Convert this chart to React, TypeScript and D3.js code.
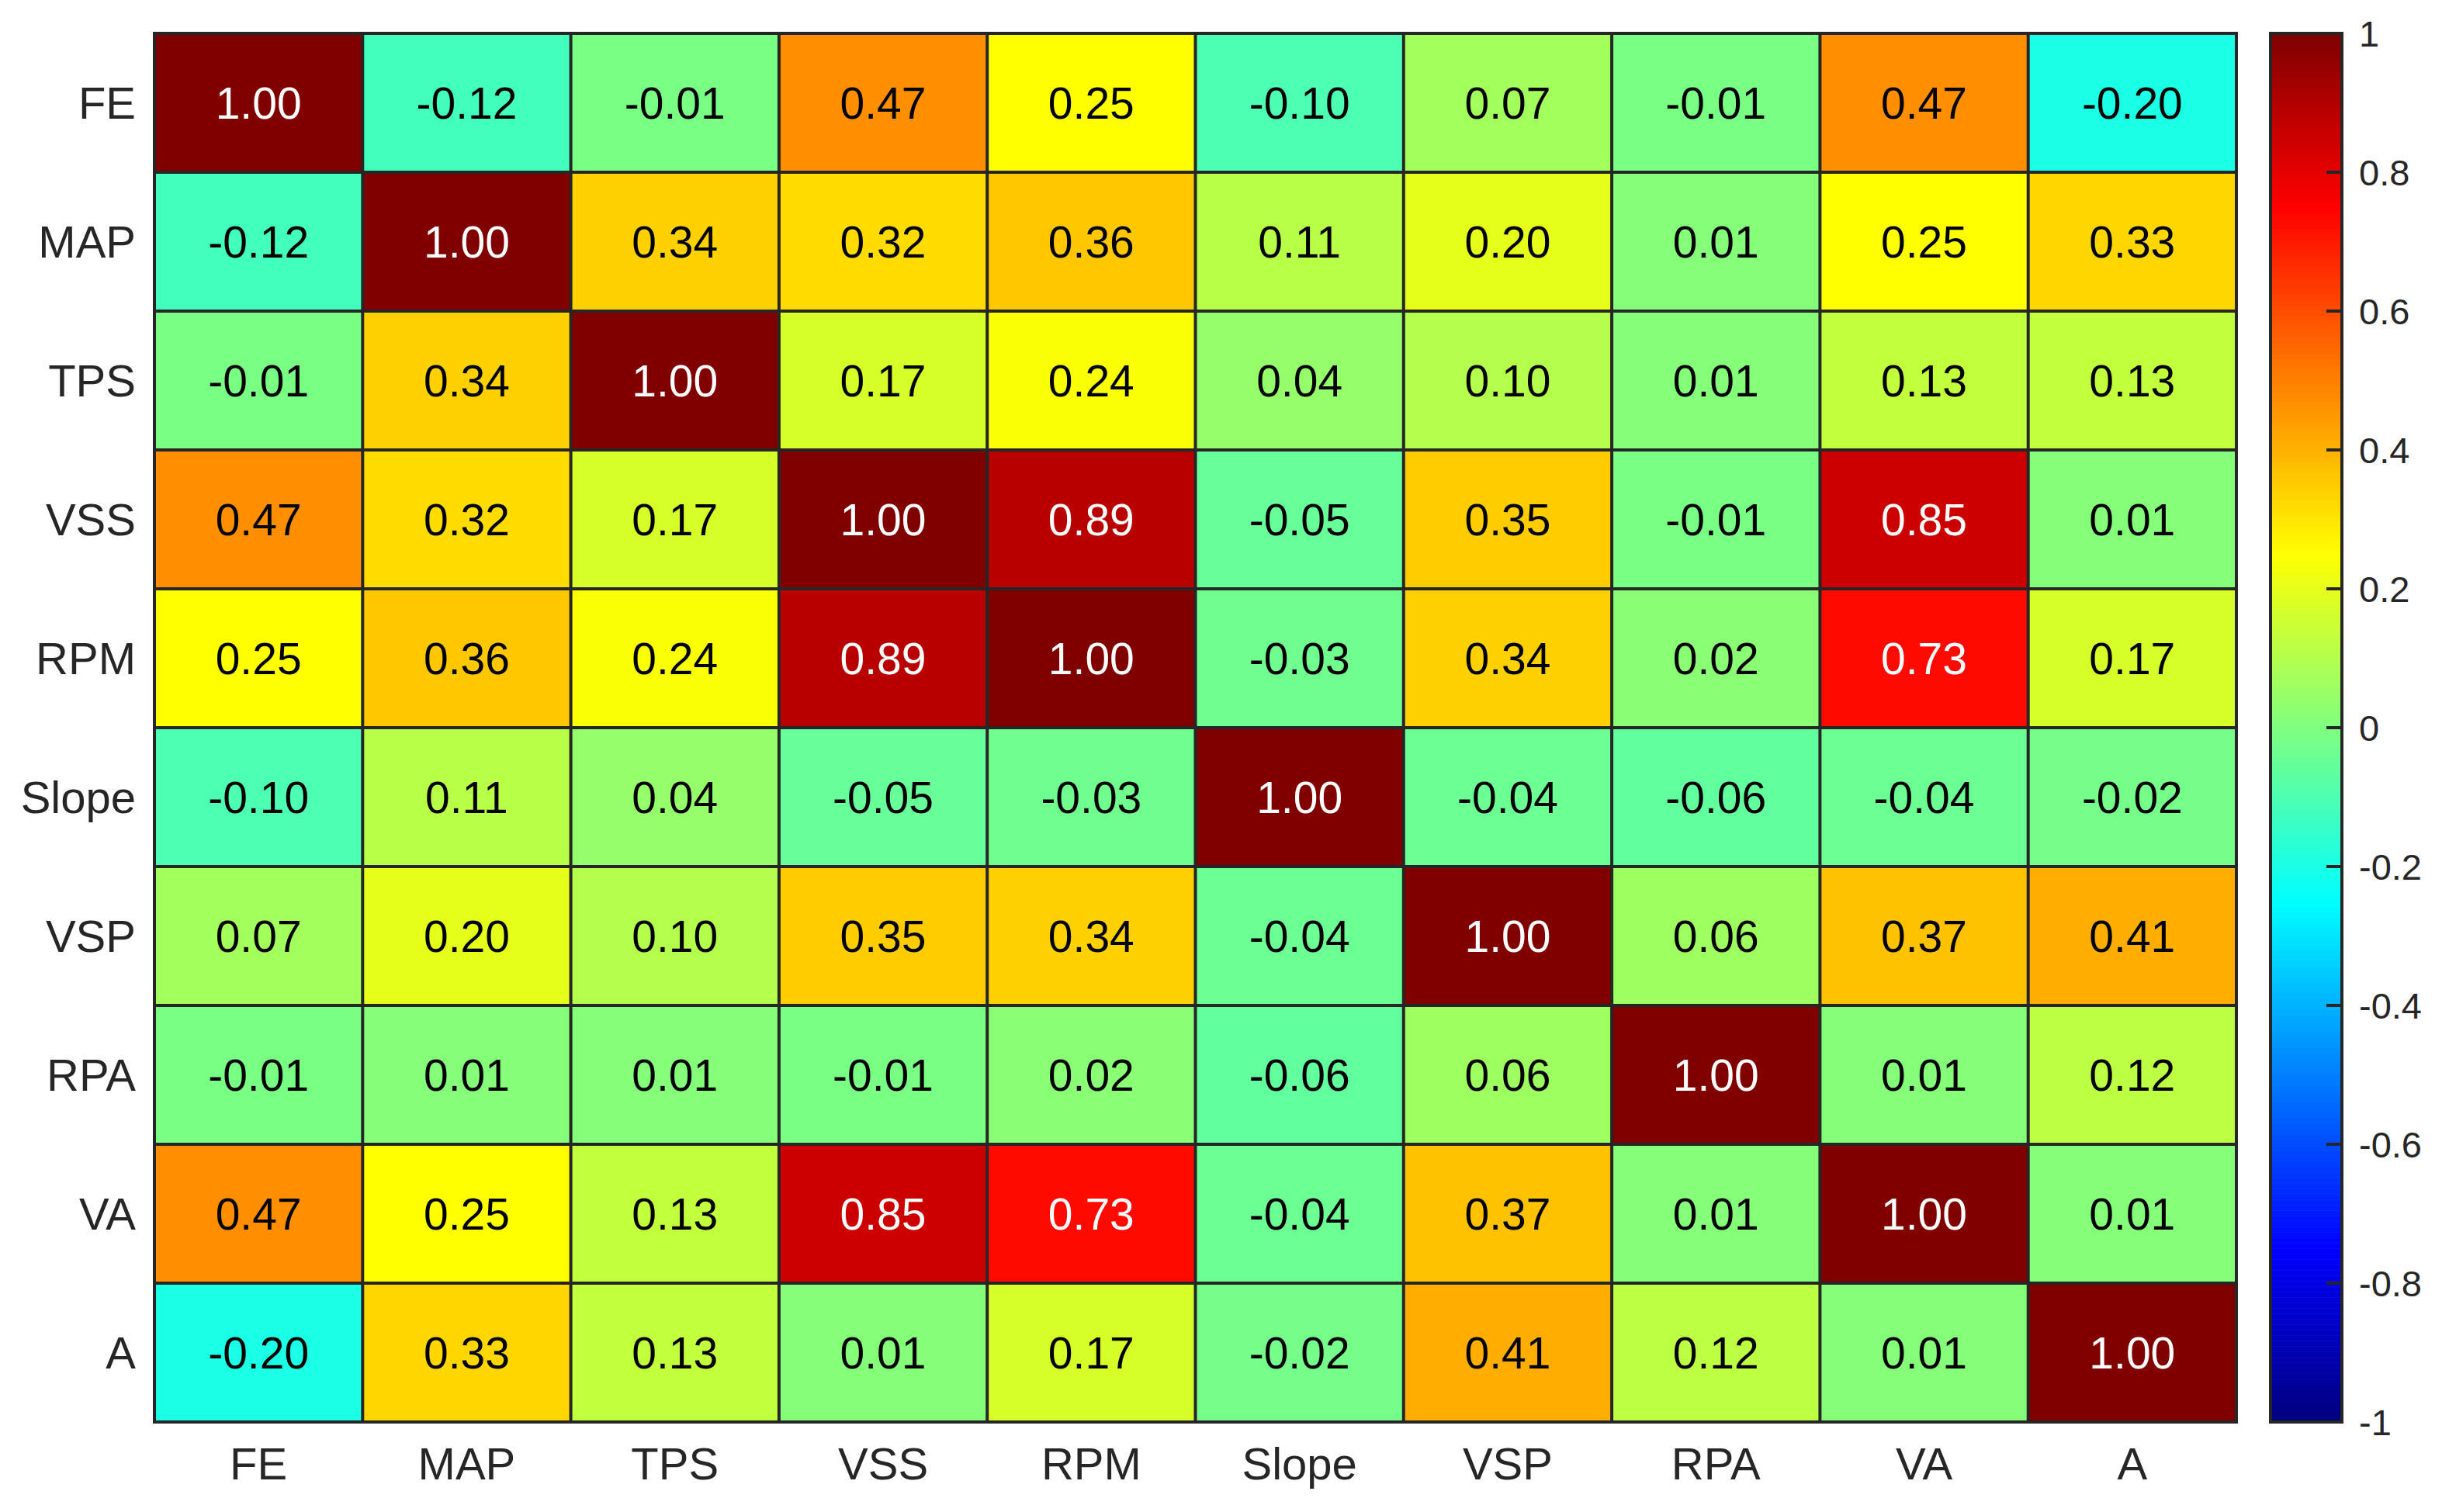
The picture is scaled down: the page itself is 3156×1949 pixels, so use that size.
import * as d3 from "d3";

const labels = ["FE", "MAP", "TPS", "VSS", "RPM", "Slope", "VSP", "RPA", "VA", "A"];

// correlation matrix, row by row
const FE = [1.0, -0.12, -0.01, 0.47, 0.25, -0.1, 0.07, -0.01, 0.47, -0.2];
const MAP = [-0.12, 1.0, 0.34, 0.32, 0.36, 0.11, 0.2, 0.01, 0.25, 0.33];
const TPS = [-0.01, 0.34, 1.0, 0.17, 0.24, 0.04, 0.1, 0.01, 0.13, 0.13];
const VSS = [0.47, 0.32, 0.17, 1.0, 0.89, -0.05, 0.35, -0.01, 0.85, 0.01];
const RPM = [0.25, 0.36, 0.24, 0.89, 1.0, -0.03, 0.34, 0.02, 0.73, 0.17];
const Slope = [-0.1, 0.11, 0.04, -0.05, -0.03, 1.0, -0.04, -0.06, -0.04, -0.02];
const VSP = [0.07, 0.2, 0.1, 0.35, 0.34, -0.04, 1.0, 0.06, 0.37, 0.41];
const RPA = [-0.01, 0.01, 0.01, -0.01, 0.02, -0.06, 0.06, 1.0, 0.01, 0.12];
const VA = [0.47, 0.25, 0.13, 0.85, 0.73, -0.04, 0.37, 0.01, 1.0, 0.01];
const A = [-0.2, 0.33, 0.13, 0.01, 0.17, -0.02, 0.41, 0.12, 0.01, 1.0];
const matrix = [FE, MAP, TPS, VSS, RPM, Slope, VSP, RPA, VA, A];

const colorTicks = [1, 0.8, 0.6, 0.4, 0.2, 0, -0.2, -0.4, -0.6, -0.8, -1];

// MATLAB style jet colormap
const jet = (t: number) => {
  const c = (v: number) => Math.round(255 * Math.max(0, Math.min(1, v)));
  const r = c(1.5 - Math.abs(4 * t - 3));
  const g = c(1.5 - Math.abs(4 * t - 2));
  const b = c(1.5 - Math.abs(4 * t - 1));
  return `rgb(${r},${g},${b})`;
};

const W = 3156;
const H = 1949;
const left = 199;
const right = 2882;
const top = 43;
const bottom = 1833;
const cbLeft = 2926;
const cbRight = 3018;
const axisColor = "#262626";
const font = "Arial, 'Liberation Sans', sans-serif";

export default function App() {
  const x = d3.scaleBand<string>().domain(labels).range([left, right]);
  const y = d3.scaleBand<string>().domain(labels).range([top, bottom]);
  const color = d3.scaleLinear().domain([-1, 1]).range([0, 1]);
  const cy = d3.scaleLinear().domain([-1, 1]).range([bottom, top]);
  const steps = d3.range(256);
  const stepH = (bottom - top) / 256;

  const cells = matrix.flatMap((row, i) =>
    row.map((v, j) => ({ r: labels[i], c: labels[j], v }))
  );

  return (
    <svg
      width={W}
      height={H}
      style={{ position: "absolute", left: 0, top: 0, background: "#fff" }}
      fontFamily={font}
    >
      {cells.map((d, k) => (
        <g key={k}>
          <rect
            x={x(d.c)}
            y={y(d.r)}
            width={x.bandwidth()}
            height={y.bandwidth()}
            fill={jet(color(d.v))}
          />
          <text
            x={(x(d.c) as number) + x.bandwidth() / 2}
            y={(y(d.r) as number) + y.bandwidth() / 2}
            textAnchor="middle"
            dominantBaseline="central"
            fontSize={57}
            fill={d.v > 0.7 ? "#fff" : "#000"}
          >
            {d.v.toFixed(2)}
          </text>
        </g>
      ))}

      {/* grid lines */}
      {labels.slice(1).map((l) => (
        <g key={l}>
          <line x1={x(l)} x2={x(l)} y1={top} y2={bottom} stroke={axisColor} strokeWidth={4} />
          <line x1={left} x2={right} y1={y(l)} y2={y(l)} stroke={axisColor} strokeWidth={4} />
        </g>
      ))}
      <rect
        x={left}
        y={top}
        width={right - left}
        height={bottom - top}
        fill="none"
        stroke={axisColor}
        strokeWidth={4}
      />

      {/* axis labels */}
      {labels.map((l) => (
        <text
          key={"r" + l}
          x={175}
          y={(y(l) as number) + y.bandwidth() / 2}
          textAnchor="end"
          dominantBaseline="central"
          fontSize={58}
          fill={axisColor}
        >
          {l}
        </text>
      ))}
      {labels.map((l) => (
        <text
          key={"c" + l}
          x={(x(l) as number) + x.bandwidth() / 2}
          y={1907}
          textAnchor="middle"
          fontSize={58}
          fill={axisColor}
        >
          {l}
        </text>
      ))}

      {/* colorbar */}
      {steps.map((s) => (
        <rect
          key={"cb" + s}
          x={cbLeft}
          y={bottom - (s + 1) * stepH}
          width={cbRight - cbLeft}
          height={stepH + 0.6}
          fill={jet((s + 0.5) / 256)}
        />
      ))}
      <rect
        x={cbLeft}
        y={top}
        width={cbRight - cbLeft}
        height={bottom - top}
        fill="none"
        stroke={axisColor}
        strokeWidth={4}
      />
      {colorTicks.map((t) => (
        <g key={"t" + t}>
          <line x1={cbRight - 20} x2={cbRight} y1={cy(t)} y2={cy(t)} stroke={axisColor} strokeWidth={4} />
          <text
            x={3040}
            y={cy(t)}
            dominantBaseline="central"
            fontSize={47}
            fill={axisColor}
          >
            {t}
          </text>
        </g>
      ))}
    </svg>
  );
}
